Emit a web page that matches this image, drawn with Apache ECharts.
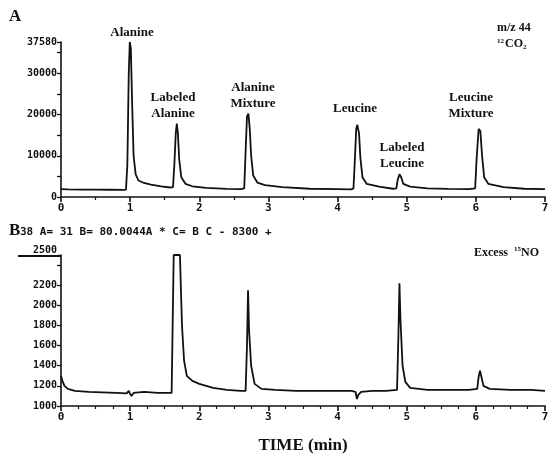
<!DOCTYPE html>
<html>
<head>
<meta charset="utf-8">
<script src="https://cdn.jsdelivr.net/npm/echarts@6/dist/echarts.min.js"></script>
<style>
  html, body { margin: 0; background: #fff; }
  #chart { width: 553px; height: 461px; }
</style>
</head>
<body>
<div id="chart"></div>
<script>
// panel A: m/z 44, 12CO2  [time (min), signal]
const co2Trace = [
    [0.0, 1900], [0.1, 1850], [0.3, 1800], [0.5, 1780], [0.7, 1760], [0.9, 1750], [0.94, 1780],
    [0.96, 8000], [0.98, 30000], [0.995, 37580], [1.01, 36000], [1.03, 22000], [1.05, 10000],
    [1.08, 5500], [1.12, 4000], [1.2, 3400], [1.3, 3000], [1.45, 2600], [1.58, 2300], [1.62, 2400],
    [1.64, 8000], [1.66, 15500], [1.675, 17800], [1.69, 15500], [1.71, 9000], [1.74, 4800],
    [1.8, 3200], [1.9, 2600], [2.1, 2200], [2.4, 1950], [2.6, 1900], [2.65, 2100],
    [2.67, 11000], [2.69, 19500], [2.71, 20200], [2.73, 16500], [2.75, 10000], [2.78, 5200],
    [2.84, 3500], [2.95, 2900], [3.2, 2400], [3.6, 2000], [4.0, 1900], [4.2, 1850], [4.23, 2100],
    [4.25, 9000], [4.27, 16500], [4.285, 17500], [4.31, 15500], [4.33, 9500], [4.36, 4800],
    [4.42, 3200], [4.6, 2500], [4.8, 2000], [4.85, 2100], [4.87, 4200], [4.895, 5500], [4.92, 4800],
    [4.95, 3200], [5.05, 2500], [5.3, 2100], [5.6, 1950], [5.9, 1900], [5.99, 2100],
    [6.01, 9000], [6.04, 16500], [6.065, 16000], [6.09, 10000], [6.12, 4800], [6.18, 3200],
    [6.4, 2400], [6.7, 2000], [7.0, 1900]
];

// panel B: excess 15NO  [time (min), signal]
const noTrace = [
    [0.0, 1300], [0.02, 1250], [0.05, 1200], [0.1, 1170], [0.2, 1150], [0.4, 1140], [0.6, 1135],
    [0.8, 1130], [0.95, 1125], [0.98, 1150], [1.0, 1120], [1.02, 1100], [1.05, 1130], [1.2, 1140],
    [1.4, 1130], [1.6, 1130], [1.62, 1140], [1.63, 2500], [1.72, 2500], [1.75, 1800], [1.78, 1450],
    [1.82, 1300], [1.9, 1250], [2.0, 1220], [2.2, 1180], [2.4, 1160], [2.6, 1150], [2.67, 1150],
    [2.69, 1600], [2.705, 2150], [2.72, 1750], [2.75, 1400], [2.8, 1220], [2.9, 1170], [3.1, 1160],
    [3.4, 1150], [3.7, 1150], [4.0, 1150], [4.2, 1150], [4.26, 1140], [4.28, 1070], [4.30, 1110],
    [4.34, 1140], [4.5, 1150], [4.7, 1150], [4.86, 1160], [4.88, 1700], [4.895, 2220], [4.91, 1850],
    [4.94, 1400], [4.98, 1240], [5.05, 1180], [5.3, 1160], [5.6, 1160], [5.9, 1160], [6.02, 1170],
    [6.04, 1290], [6.06, 1350], [6.08, 1290], [6.11, 1200], [6.2, 1170], [6.5, 1160], [6.8, 1160],
    [7.0, 1150]
];

const co2LabelValues = [0, 10000, 20000, 30000, 37580];
const co2TickValues = [0, 5000, 10000, 15000, 20000, 25000, 30000, 35000, 37580];
const noLabelValues = [1000, 1200, 1400, 1600, 1800, 2000, 2200, 2500];
const noTickValues = [1000, 1200, 1400, 1600, 1800, 2000, 2200, 2400, 2500];

const ink = '#111';
const mono = '"DejaVu Sans Mono", monospace';
const serif = '"Liberation Serif", "DejaVu Serif", serif';

function timeAxis(gridIndex, minorSplit, name) {
    return {
        type: 'value', gridIndex: gridIndex, min: 0, max: 7, interval: 1,
        axisLine: { lineStyle: { color: ink, width: 1.6 } },
        axisTick: { length: 5, lineStyle: { color: ink, width: 1.6 } },
        minorTick: { show: true, splitNumber: minorSplit, length: 3, lineStyle: { color: ink, width: 1.2 } },
        splitLine: { show: false },
        axisLabel: { color: ink, fontFamily: mono, fontWeight: 'bold', fontSize: 11, margin: 6 },
        name: name || '',
        nameLocation: 'middle',
        nameGap: 31,
        nameTextStyle: { color: ink, fontFamily: serif, fontWeight: 'bold', fontSize: 17 }
    };
}

function signalAxis(gridIndex, min, max, labels, ticks, raisedTop) {
    return {
        type: 'value', gridIndex: gridIndex, min: min, max: max,
        axisLine: { show: true, lineStyle: { color: ink, width: 1.6 } },
        axisTick: { show: true, length: 4, customValues: ticks, lineStyle: { color: ink, width: 1.3 } },
        splitLine: { show: false },
        axisLabel: {
            customValues: labels, color: ink, fontFamily: mono, fontWeight: 'bold',
            fontSize: 10, margin: 4,
            formatter: (v) => (raisedTop && v === max) ? '{top|' + v + '}' : String(v),
            rich: { top: { fontFamily: mono, fontWeight: 'bold', fontSize: 10, color: ink, padding: [0, 0, 9, 0] } }
        }
    };
}

const chart = echarts.init(document.getElementById('chart'));

function note(x, y, lines) {
    return {
        type: 'text', x: x, y: y,
        style: {
            text: lines, fill: ink, font: 'bold 13px ' + serif,
            textAlign: 'center', textVerticalAlign: 'top', lineHeight: 16
        }
    };
}

chart.setOption({
    animation: false,
    backgroundColor: '#fff',
    grid: [
        { left: 61, right: 8, top: 42, height: 155 },
        { left: 61, right: 8, top: 255, height: 151 }
    ],
    xAxis: [timeAxis(0, 2), timeAxis(1, 4, 'TIME (min)')],
    yAxis: [
        signalAxis(0, 0, 37580, co2LabelValues, co2TickValues, false),
        signalAxis(1, 1000, 2500, noLabelValues, noTickValues, true)
    ],
    series: [
        {
            type: 'line', xAxisIndex: 0, yAxisIndex: 0, data: co2Trace,
            showSymbol: false, lineStyle: { color: ink, width: 1.8 }
        },
        {
            type: 'line', xAxisIndex: 1, yAxisIndex: 1, data: noTrace,
            showSymbol: false, lineStyle: { color: ink, width: 1.8 }
        }
    ],
    graphic: [
        { type: 'text', left: 9, top: 8, style: { text: 'A', fill: ink, font: 'bold 17px ' + serif } },
        { type: 'text', left: 9, top: 222, style: { text: 'B', fill: ink, font: 'bold 17px ' + serif } },
        {
            type: 'text', left: 20, top: 227,
            style: { text: '38 A= 31 B= 80.0044A * C= B C - 8300 +', fill: ink, font: 'bold 11px ' + mono }
        },
        { type: 'line', shape: { x1: 18, y1: 256, x2: 61, y2: 256 }, style: { stroke: ink, lineWidth: 2 } },
        {
            type: 'text', left: 497, top: 20,
            style: {
                text: 'm/z 44\n{sup|12}CO{sub|2}', fill: ink, font: 'bold 12px ' + serif, lineHeight: 16,
                rich: {
                    sup: { fontSize: 7, fontWeight: 'bold', fontFamily: serif, padding: [0, 1, 6, 0] },
                    sub: { fontSize: 7, fontWeight: 'bold', fontFamily: serif, padding: [6, 0, 0, 0] }
                }
            }
        },
        {
            type: 'text', left: 474, top: 246,
            style: {
                text: 'Excess  {sup|15}NO', fill: ink, font: 'bold 12px ' + serif,
                rich: {
                    sup: { fontSize: 7, fontWeight: 'bold', fontFamily: serif, padding: [0, 0, 6, 0] }
                }
            }
        },
        note(132, 25, 'Alanine'),
        note(173, 90, 'Labeled\nAlanine'),
        note(253, 80, 'Alanine\nMixture'),
        note(355, 101, 'Leucine'),
        note(402, 140, 'Labeled\nLeucine'),
        note(471, 90, 'Leucine\nMixture')
    ]
});
</script>
</body>
</html>
